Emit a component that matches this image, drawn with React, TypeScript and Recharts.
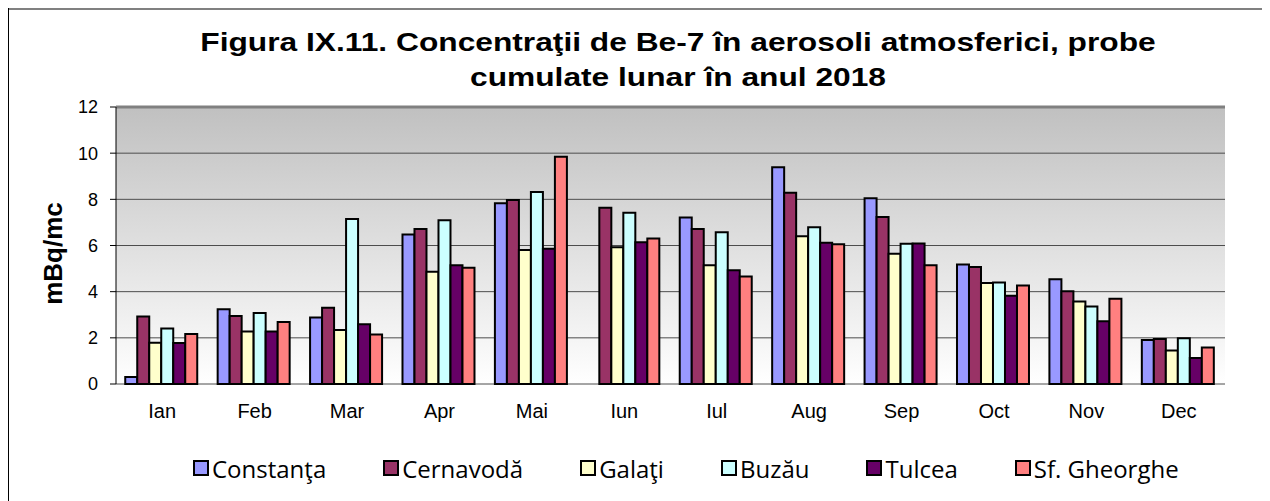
import React from 'react'
import { BarChart, Bar, XAxis, YAxis, CartesianGrid, Legend, ReferenceLine } from 'recharts'

const months = ['Ian', 'Feb', 'Mar', 'Apr', 'Mai', 'Iun', 'Iul', 'Aug', 'Sep', 'Oct', 'Nov', 'Dec']

const constanta = [0.3, 3.24, 2.88, 6.48, 7.83, null, 7.21, 9.39, 8.05, 5.18, 4.54, 1.91]
const cernavoda = [2.92, 2.95, 3.3, 6.71, 7.97, 7.63, 6.71, 8.28, 7.24, 5.07, 4.02, 1.95]
const galati = [1.79, 2.27, 2.34, 4.86, 5.8, 5.92, 5.14, 6.4, 5.64, 4.38, 3.57, 1.45]
const buzau = [2.4, 3.08, 7.15, 7.09, 8.32, 7.42, 6.57, 6.79, 6.08, 4.4, 3.36, 1.98]
const tulcea = [1.78, 2.27, 2.59, 5.14, 5.86, 6.14, 4.93, 6.12, 6.09, 3.82, 2.72, 1.13]
const sfGheorghe = [2.17, 2.69, 2.14, 5.04, 9.84, 6.3, 4.66, 6.05, 5.14, 4.27, 3.69, 1.58]

const yTicks = [0, 2, 4, 6, 8, 10, 12]
const edgeTicks = [0, 1, 2, 3, 4, 5, 6, 7, 8, 9, 10, 11, 12]

const series = [
  { key: 'c', name: 'Constanţa', values: constanta, color: '#9999FF' },
  { key: 'cv', name: 'Cernavodă', values: cernavoda, color: '#993366' },
  { key: 'g', name: 'Galaţi', values: galati, color: '#FFFFCC' },
  { key: 'b', name: 'Buzău', values: buzau, color: '#CCFFFF' },
  { key: 't', name: 'Tulcea', values: tulcea, color: '#660066' },
  { key: 's', name: 'Sf. Gheorghe', values: sfGheorghe, color: '#FF8080' },
]

const data = months.map((m, i) => {
  const row: any = { month: m }
  series.forEach(s => { row[s.key] = s.values[i] })
  return row
})

const font = '"Liberation Sans", Arial, sans-serif'
const order = series.map(s => s.name)

const LegendBox = ({ payload }: any) => {
  const items = [...(payload || [])].sort((a: any, b: any) => order.indexOf(a.value) - order.indexOf(b.value))
  return (
    <div style={{ display: 'flex', gap: 57, paddingLeft: 185, height: 30, alignItems: 'center' }}>
      {items.map((e: any) => (
        <div key={e.value} style={{ display: 'flex', alignItems: 'center' }}>
          <span style={{ width: 12, height: 12, background: e.color, border: '2px solid #000', marginRight: 3 }} />
          <span style={{ fontFamily: '"Open Sans", sans-serif', fontSize: 24, color: '#000' }}>{e.value}</span>
        </div>
      ))}
    </div>
  )
}

const YLabel = ({ viewBox }: any) => {
  const x = viewBox.x + 37
  const y = viewBox.y + viewBox.height / 2 + 8
  return (
    <text x={x} y={y} transform={`rotate(-90, ${x}, ${y})`} textAnchor="middle" dominantBaseline="central"
      style={{ fontWeight: 'bold', fontSize: 26, fill: '#000', fontFamily: font }}>
      mBq/mc
    </text>
  )
}

const App = () => {
  return (
    <div style={{ position: 'relative', width: 1262, height: 493, fontFamily: font }}>
      <div style={{ position: 'absolute', left: 0, top: 0, width: 1262, height: 2, background: '#808080' }} />
      <div style={{ position: 'absolute', left: 0, top: 0, width: 1, height: 493, background: '#000' }} />
      <div style={{
        position: 'absolute', left: 170, top: 17, width: 1000, textAlign: 'center',
        fontSize: 26, fontWeight: 'bold', lineHeight: '35px', color: '#000',
        transform: 'scaleX(1.22)', transformOrigin: '50% 50%',
      }}>
        Figura IX.11. Concentraţii de Be-7 în aerosoli atmosferici, probe<br />cumulate lunar în anul 2018
      </div>
      <BarChart
        width={1262}
        height={493}
        data={data}
        barCategoryGap="10%"
        barGap={0}
        margin={{ top: 99, right: 45, left: 8, bottom: 47 }}
        style={{ fontFamily: font }}
      >
        <defs>
          <linearGradient id="plotBg" x1="0" y1="0" x2="0" y2="1">
            <stop offset="0%" stopColor="#C0C0C0" />
            <stop offset="100%" stopColor="#FFFFFF" />
          </linearGradient>
        </defs>
        <CartesianGrid vertical={false} stroke="#4d4d4d" strokeWidth={1} fill="url(#plotBg)" />
        <XAxis
          xAxisId="edges"
          type="number"
          domain={[0, 12]}
          ticks={edgeTicks}
          height={0}
          tickSize={6}
          axisLine={{ stroke: '#000' }}
          tickLine={{ stroke: '#000' }}
          tick={() => <g />}
        />
        <XAxis
          xAxisId="cat"
          dataKey="month"
          height={40}
          axisLine={false}
          tickLine={false}
          tickSize={0}
          tickMargin={20}
          tick={{ fill: '#000', fontSize: 20, fontFamily: font }}
        />
        <YAxis
          domain={[0, 12]}
          ticks={yTicks}
          width={100}
          tickSize={6}
          tickMargin={12}
          axisLine={{ stroke: '#000' }}
          tickLine={{ stroke: '#000' }}
          tick={{ fill: '#000', fontSize: 18, fontFamily: font }}
          label={<YLabel />}
        />
        <ReferenceLine y={12} stroke="#808080" strokeWidth={3} />
        <ReferenceLine xAxisId="edges" x={12} stroke="#808080" strokeWidth={3} />
        {series.map(s => (
          <Bar
            key={s.key}
            xAxisId="cat"
            dataKey={s.key}
            name={s.name}
            fill={s.color}
            stroke="#000"
            strokeWidth={2}
            isAnimationActive={false}
          />
        ))}
        <Legend
          content={<LegendBox />}
          wrapperStyle={{ left: 0, width: 1262, bottom: 18 }}
        />
      </BarChart>
    </div>
  )
}

export default App
